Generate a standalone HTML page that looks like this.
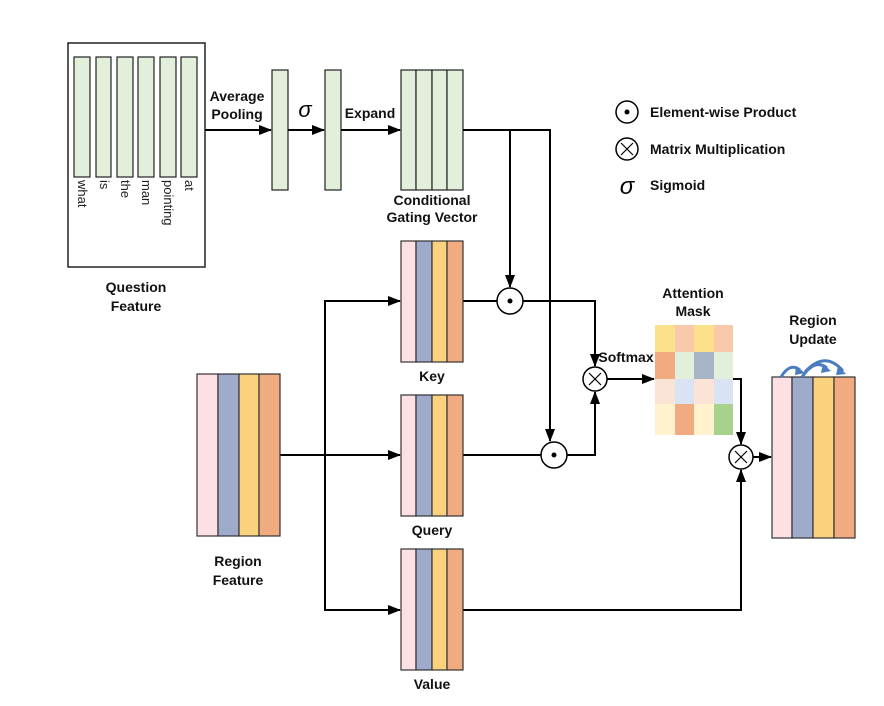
<!DOCTYPE html><html><head><meta charset="utf-8"><style>body{margin:0;background:#fff}text{font-family:"Liberation Sans",sans-serif}</style></head><body>
<svg width="884" height="701" viewBox="0 0 884 701" xmlns="http://www.w3.org/2000/svg">
<defs><marker id="a" markerWidth="13" markerHeight="10" refX="12" refY="5" orient="auto" markerUnits="userSpaceOnUse"><path d="M0,0 L13,5 L0,10z" fill="#000"/></marker></defs>
<g stroke="#222" stroke-width="1.2">
<rect x="68" y="43" width="137" height="224" fill="#fff" stroke-width="1.5"/>
<g fill="#e2efda"><rect x="74" y="57" width="16" height="120"/><rect x="96" y="57" width="15" height="120"/><rect x="117" y="57" width="16" height="120"/><rect x="138" y="57" width="16" height="120"/><rect x="160" y="57" width="16" height="120"/><rect x="181" y="57" width="16" height="120"/>
<rect x="272" y="70" width="16" height="120"/><rect x="325" y="70" width="16" height="120"/>
<rect x="401" y="70" width="15" height="120"/><rect x="416" y="70" width="16" height="120"/><rect x="432" y="70" width="15" height="120"/><rect x="447" y="70" width="16" height="120"/></g>
</g>
<g font-size="13" fill="#222">
<text transform="translate(78,180) rotate(90)">what</text><text transform="translate(100,180) rotate(90)">is</text><text transform="translate(121,180) rotate(90)">the</text><text transform="translate(142,180) rotate(90)">man</text><text transform="translate(164,180) rotate(90)">pointing</text><text transform="translate(185,180) rotate(90)">at</text></g>
<g font-size="14" font-weight="bold" fill="#111" text-anchor="middle">
<text x="237" y="101">Average</text><text x="237" y="119">Pooling</text><text x="370" y="118">Expand</text>
<text x="432" y="205">Conditional</text><text x="432" y="222">Gating Vector</text>
<text x="136" y="292">Question</text><text x="136" y="311">Feature</text>
<text x="432" y="381">Key</text><text x="432" y="535">Query</text><text x="432" y="689">Value</text>
<text x="238" y="566">Region</text><text x="238" y="585">Feature</text>
<text x="693" y="298">Attention</text><text x="693" y="316">Mask</text>
<text x="813" y="325">Region</text><text x="813" y="344">Update</text>
<text x="626" y="362">Softmax</text></g>
<text x="305" y="117" font-size="22" font-style="italic" font-family="Liberation Serif,serif" text-anchor="middle">σ</text>
<g stroke="#000" stroke-width="2" fill="none">
<line x1="205" y1="130" x2="271" y2="130" marker-end="url(#a)"/>
<line x1="288" y1="130" x2="324" y2="130" marker-end="url(#a)"/>
<line x1="341" y1="130" x2="400" y2="130" marker-end="url(#a)"/>
<polyline points="463,130 550,130 550,441" marker-end="url(#a)"/>
<line x1="510" y1="130" x2="510" y2="287" marker-end="url(#a)"/>
<line x1="463" y1="301" x2="497" y2="301"/>
<polyline points="523,301 595,301 595,366" marker-end="url(#a)"/>
<line x1="463" y1="455" x2="541" y2="455"/>
<polyline points="567,455 595,455 595,392" marker-end="url(#a)"/>
<line x1="280" y1="455" x2="400" y2="455" marker-end="url(#a)"/>
<polyline points="400,301 325,301 325,610 400,610" />
<line x1="380" y1="301" x2="400" y2="301" marker-end="url(#a)"/>
<line x1="380" y1="610" x2="400" y2="610" marker-end="url(#a)"/>
<line x1="607" y1="379" x2="654" y2="379" marker-end="url(#a)"/>
<polyline points="733,379 741,379 741,444" marker-end="url(#a)"/>
<polyline points="463,610 741,610 741,470" marker-end="url(#a)"/>
<line x1="753" y1="457" x2="771" y2="457" marker-end="url(#a)"/>
</g>
<g stroke="#000" stroke-width="1.5" fill="#fff">
<circle cx="510" cy="301" r="13"/><circle cx="554" cy="455" r="13"/><circle cx="595" cy="379" r="12"/><circle cx="741" cy="457" r="12"/>
<circle cx="627" cy="112" r="11"/><circle cx="627" cy="149" r="11"/></g>
<g fill="#000"><circle cx="510" cy="301" r="2.5"/><circle cx="554" cy="455" r="2.5"/><circle cx="627" cy="112" r="2.5"/></g>
<g stroke="#000" stroke-width="1.2"><path d="M589,373 L601,385 M601,373 L589,385"/><path d="M735,451 L747,463 M747,451 L735,463"/><path d="M621,143 L633,155 M633,143 L621,155"/></g>
<text x="627" y="194" font-size="24" font-style="italic" font-family="Liberation Serif,serif" text-anchor="middle">σ</text>
<g font-size="14" font-weight="bold" fill="#111"><text x="650" y="117">Element-wise Product</text><text x="650" y="154">Matrix Multiplication</text><text x="650" y="190">Sigmoid</text></g>
<g stroke="#333" stroke-width="1.2">
<g id="blk"><rect x="401" y="241" width="15" height="121" fill="#fde0e3"/><rect x="416" y="241" width="16" height="121" fill="#9eabcb"/><rect x="432" y="241" width="15" height="121" fill="#fad17c"/><rect x="447" y="241" width="16" height="121" fill="#f1ab80"/></g>
<use href="#blk" y="154"/><use href="#blk" y="308"/>
<rect x="197" y="374" width="21" height="162" fill="#fde0e3"/><rect x="218" y="374" width="21" height="162" fill="#9eabcb"/><rect x="239" y="374" width="20" height="162" fill="#fad17c"/><rect x="259" y="374" width="21" height="162" fill="#f1ab80"/>
<rect x="772" y="377" width="20" height="161" fill="#fde0e3"/><rect x="792" y="377" width="21" height="161" fill="#9eabcb"/><rect x="813" y="377" width="21" height="161" fill="#fad17c"/><rect x="834" y="377" width="21" height="161" fill="#f1ab80"/>
</g>
<g>
<rect x="655" y="325" width="20" height="27" fill="#fde08c"/><rect x="675" y="325" width="19" height="27" fill="#f9c9ab"/><rect x="694" y="325" width="20" height="27" fill="#fde08c"/><rect x="714" y="325" width="19" height="27" fill="#f9c9ab"/>
<rect x="655" y="352" width="20" height="27" fill="#f1ab80"/><rect x="675" y="352" width="19" height="27" fill="#e2efda"/><rect x="694" y="352" width="20" height="27" fill="#aab4c8"/><rect x="714" y="352" width="19" height="27" fill="#e2efda"/>
<rect x="655" y="379" width="20" height="25" fill="#fbe3d6"/><rect x="675" y="379" width="19" height="25" fill="#dae3f3"/><rect x="694" y="379" width="20" height="25" fill="#fbe3d6"/><rect x="714" y="379" width="19" height="25" fill="#dae3f3"/>
<rect x="655" y="404" width="20" height="31" fill="#fff2cc"/><rect x="675" y="404" width="19" height="31" fill="#f1ab80"/><rect x="694" y="404" width="20" height="31" fill="#fff2cc"/><rect x="714" y="404" width="19" height="31" fill="#a9d18e"/></g>
<g stroke="#4a7cc0" stroke-width="3" fill="none">
<path d="M781,377 Q790,362 800,370"/><path d="M802,377 Q815,358 827,368"/><path d="M805,372 Q825,350 843,371"/></g>
<g fill="#4a7cc0"><path d="M796,366 L805,373 L795,375z"/><path d="M823,364 L831,371 L821,373z"/><path d="M838,366 L846,374 L836,375z"/></g>
</svg></body></html>
